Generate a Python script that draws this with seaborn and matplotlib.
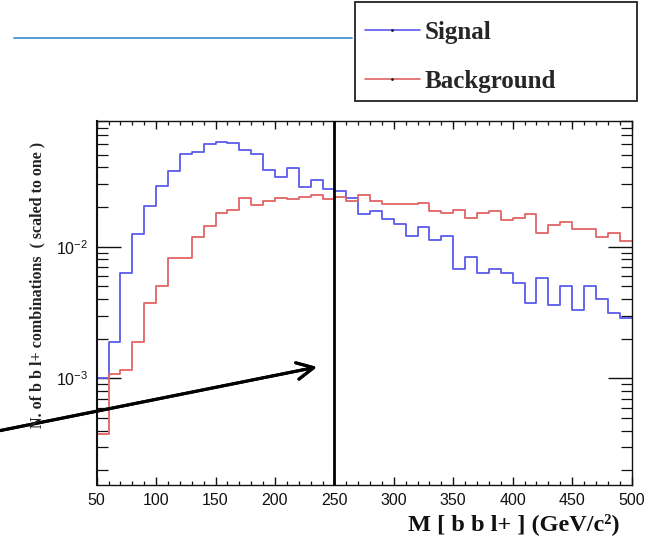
import numpy as np
import pandas as pd
import matplotlib
matplotlib.use("Agg")
import matplotlib.pyplot as plt
from matplotlib.lines import Line2D
from matplotlib.patches import Rectangle
from matplotlib.ticker import MultipleLocator, LogLocator, NullFormatter
import seaborn as sns

# Invariant mass of b b l+ combinations, 10 GeV bins from 50 to 500
bin_edges = np.arange(50, 510, 10)
signal = [1.00e-3, 1.88e-3, 6.28e-3, 1.24e-2, 2.03e-2, 2.89e-2, 3.74e-2, 5.04e-2, 5.27e-2, 6.00e-2,
          6.20e-2, 6.10e-2, 5.43e-2, 5.06e-2, 3.83e-2, 3.40e-2, 3.94e-2, 2.86e-2, 3.23e-2, 2.73e-2,
          2.67e-2, 2.36e-2, 1.76e-2, 1.88e-2, 1.63e-2, 1.48e-2, 1.21e-2, 1.40e-2, 1.12e-2, 1.21e-2,
          6.81e-3, 8.39e-3, 6.28e-3, 6.78e-3, 6.28e-3, 5.27e-3, 3.75e-3, 5.82e-3, 3.59e-3, 5.00e-3,
          3.33e-3, 5.01e-3, 4.04e-3, 3.15e-3, 2.89e-3]
background = [3.75e-4, 1.08e-3, 1.16e-3, 1.90e-3, 3.73e-3, 5.06e-3, 8.25e-3, 8.25e-3, 1.19e-2, 1.44e-2,
              1.80e-2, 1.90e-2, 2.36e-2, 2.07e-2, 2.24e-2, 2.33e-2, 2.30e-2, 2.37e-2, 2.47e-2, 2.29e-2,
              2.40e-2, 2.24e-2, 2.47e-2, 2.24e-2, 2.10e-2, 2.10e-2, 2.10e-2, 2.14e-2, 1.85e-2, 1.80e-2,
              1.89e-2, 1.66e-2, 1.80e-2, 1.88e-2, 1.60e-2, 1.66e-2, 1.76e-2, 1.28e-2, 1.45e-2, 1.55e-2,
              1.37e-2, 1.37e-2, 1.19e-2, 1.28e-2, 1.10e-2]
series_labels = ["Signal", "Background"]
x_ticks = [50, 100, 150, 200, 250, 300, 350, 400, 450, 500]
cut_value = 250

sig_color = "#5a5aec"
bkg_color = "#e06464"

sns.set_theme(style="ticks")
plt.rcParams["font.family"] = ["Liberation Sans", "DejaVu Sans"]
plt.rcParams["mathtext.fontset"] = "custom"
plt.rcParams["mathtext.rm"] = "Liberation Sans"

centers = bin_edges[:-1] + 5
df = pd.DataFrame({"mass": np.concatenate([centers, centers]),
                   "weight": np.concatenate([signal, background]),
                   "sample": [series_labels[0]] * len(centers) + [series_labels[1]] * len(centers)})

fig = plt.figure(figsize=(6.72, 5.46), dpi=100)
ax = fig.add_axes([96.7 / 672, 1 - 485 / 546, (631.5 - 96.7) / 672, (485 - 121) / 546])

for name, col in zip(series_labels, [sig_color, bkg_color]):
    sub = df[df["sample"] == name]
    sns.histplot(data=sub, x="mass", weights="weight", binwidth=10,
                 binrange=(bin_edges[0], bin_edges[-1]), element="step",
                 fill=False, color=col, linewidth=1.3, ax=ax)

ax.set_yscale("log")
ax.set_xlim(50, 500)
ax.set_ylim(1.55e-4, 0.09)

ax.axvline(cut_value, color="black", linewidth=2.0, zorder=5)

ax.set_xticks(x_ticks)
ax.xaxis.set_minor_locator(MultipleLocator(10))
ax.yaxis.set_major_locator(LogLocator(base=10))
ax.yaxis.set_minor_locator(LogLocator(base=10, subs=np.arange(2, 10)))
ax.yaxis.set_minor_formatter(NullFormatter())
ax.tick_params(axis="both", which="both", direction="in", top=True, right=True, colors="#111111")
ax.tick_params(axis="x", which="major", length=5.5, width=1.0, labelsize=11.5, pad=6)
ax.tick_params(axis="x", which="minor", length=3, width=0.9)
ax.tick_params(axis="y", which="major", length=17, width=1.0, labelsize=11.5, pad=6)
ax.tick_params(axis="y", which="minor", length=8, width=0.9)
for side in ["left", "right", "top", "bottom"]:
    ax.spines[side].set_visible(True)
    ax.spines[side].set_color("#111111")
    ax.spines[side].set_linewidth(1.0)
ax.spines["left"].set_linewidth(1.5)
ax.set_xlabel("")
ax.set_ylabel("")
ax.grid(False)

fig.text(620 / 672, 1 - 524 / 546, "M [ b b l+ ] (GeV/c²)", ha="right", va="center",
         fontsize=17.5, fontweight="bold", family=["Liberation Serif"], color="#111111")
fig.text(37 / 672, 1 - 285 / 546, "N. of b b l+ combinations  ( scaled to one )", rotation=90,
         ha="center", va="center", fontsize=11.5, fontweight="bold", family=["Liberation Serif"],
         color="#222222")

# legend box above the frame
fig.patches.append(Rectangle((355 / 672, 1 - 101 / 546), (637 - 355) / 672, 99 / 546,
                             transform=fig.transFigure, fill=False, edgecolor="#222222", linewidth=1.3))
handles = [Line2D([0], [0], color=sig_color, linewidth=1.2, marker=".", markersize=2,
                  markerfacecolor="k", markeredgecolor="k"),
           Line2D([0], [0], color=bkg_color, linewidth=1.2, marker=".", markersize=2,
                  markerfacecolor="k", markeredgecolor="k")]
fig.legend(handles, series_labels, loc="upper left", bbox_to_anchor=(347 / 672, 1 - 3 / 546),
           frameon=False, numpoints=1, handlelength=2.2, handletextpad=0.2, labelspacing=1.05,
           borderpad=0.2, prop={"family": "Liberation Serif", "weight": "bold", "size": 18})

# pointer line and arrow
fig.lines.append(Line2D([14 / 672, 352 / 672], [1 - 38 / 546, 1 - 38 / 546], transform=fig.transFigure,
                        color="#5b9bd5", linewidth=1.4))
fig.add_artist(plt.annotate("", xy=(317 / 672, 1 - 367 / 546), xytext=(-2 / 672, 1 - 431 / 546),
                            xycoords="figure fraction", textcoords="figure fraction",
                            arrowprops=dict(arrowstyle="->,head_length=1.0,head_width=0.5",
                                            color="black", linewidth=2.2, shrinkA=0, shrinkB=0)))

fig.savefig("out.png", dpi=100)
